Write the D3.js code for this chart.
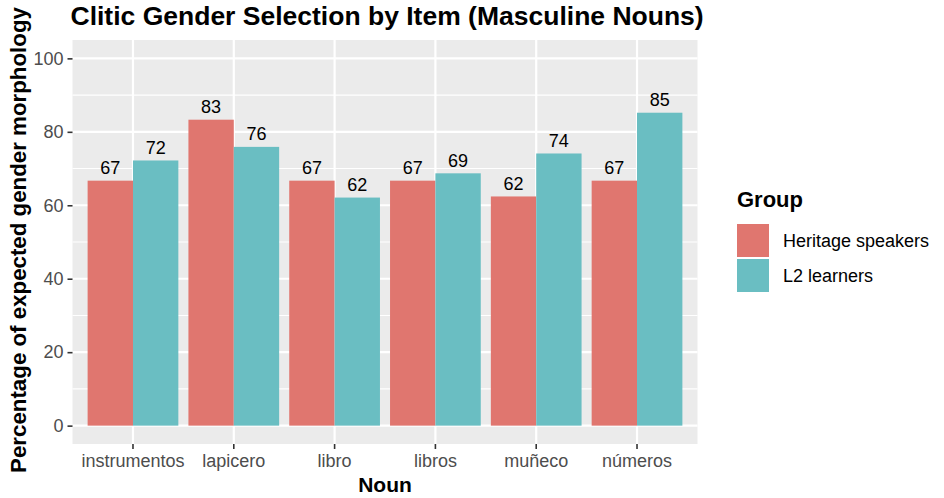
<!DOCTYPE html>
<html>
<head>
<meta charset="utf-8">
<script src="https://cdn.jsdelivr.net/npm/d3@7"></script>
<style>
  html, body { margin: 0; padding: 0; background: #ffffff; }
  svg { display: block; font-family: "Liberation Sans", Arial, Helvetica, sans-serif; }
</style>
</head>
<body>
<svg id="chart" width="944" height="498"></svg>
<script>
const nouns = ["instrumentos", "lapicero", "libro", "libros", "muñeco", "números"];
const groups = ["Heritage speakers", "L2 learners"];
const heritageValues = [66.7, 83.3, 66.7, 66.7, 62.4, 66.7];
const l2Values = [72.2, 75.9, 62.1, 68.7, 74.1, 85.2];
const yTicks = [0, 20, 40, 60, 80, 100];
const yMinorTicks = [10, 30, 50, 70, 90];
const groupColors = ["#E0766F", "#6ABEC2"];

const title = "Clitic Gender Selection by Item (Masculine Nouns)";
const xTitle = "Noun";
const yTitle = "Percentage of expected gender morphology";
const legendTitle = "Group";

const rows = nouns.map((n, i) => ({ noun: n, values: [heritageValues[i], l2Values[i]] }));

const svg = d3.select("#chart");
const panel = { left: 72.5, right: 697.5, top: 40, bottom: 444 };

svg.append("rect").attr("width", 944).attr("height", 498).attr("fill", "#ffffff");

const x = d3.scaleBand().domain(nouns).range([panel.left, panel.right])
  .paddingInner(0.1).paddingOuter(0.15);
const xg = d3.scaleBand().domain(groups).range([0, x.bandwidth()]).padding(0);
const y = d3.scaleLinear().domain([-5, 105]).range([panel.bottom, panel.top]);
const color = d3.scaleOrdinal().domain(groups).range(groupColors);

// panel background
svg.append("rect")
  .attr("x", panel.left).attr("y", panel.top)
  .attr("width", panel.right - panel.left).attr("height", panel.bottom - panel.top)
  .attr("fill", "#EBEBEB");

// minor grid
svg.append("g").selectAll("line").data(yMinorTicks).join("line")
  .attr("x1", panel.left).attr("x2", panel.right)
  .attr("y1", d => y(d)).attr("y2", d => y(d))
  .attr("stroke", "#ffffff").attr("stroke-width", 1.1);

// major grid
svg.append("g").selectAll("line").data(yTicks).join("line")
  .attr("x1", panel.left).attr("x2", panel.right)
  .attr("y1", d => y(d)).attr("y2", d => y(d))
  .attr("stroke", "#ffffff").attr("stroke-width", 2.2);
svg.append("g").selectAll("line").data(nouns).join("line")
  .attr("x1", d => x(d) + x.bandwidth() / 2).attr("x2", d => x(d) + x.bandwidth() / 2)
  .attr("y1", panel.top).attr("y2", panel.bottom)
  .attr("stroke", "#ffffff").attr("stroke-width", 2.2);

// bars
const barG = svg.append("g").selectAll("g").data(rows).join("g")
  .attr("transform", d => `translate(${x(d.noun)},0)`);
barG.selectAll("rect").data(d => d.values.map((v, i) => ({ group: groups[i], value: v }))).join("rect")
  .attr("x", d => xg(d.group))
  .attr("width", xg.bandwidth())
  .attr("y", d => y(d.value))
  .attr("height", d => y(0) - y(d.value))
  .attr("fill", d => color(d.group));
barG.selectAll("text").data(d => d.values.map((v, i) => ({ group: groups[i], value: v }))).join("text")
  .attr("x", d => xg(d.group) + xg.bandwidth() / 2)
  .attr("y", d => y(d.value) - 6.5)
  .attr("text-anchor", "middle")
  .attr("font-size", 18)
  .attr("fill", "#000000")
  .text(d => Math.round(d.value));

// y axis
const yAxis = svg.append("g")
  .attr("transform", `translate(${panel.left},0)`)
  .call(d3.axisLeft(y).tickValues(yTicks).tickSize(5).tickPadding(4));
yAxis.select(".domain").remove();
yAxis.selectAll(".tick line").attr("stroke", "#333333").attr("stroke-width", 1.6);
yAxis.selectAll(".tick text").attr("fill", "#4D4D4D").attr("font-size", 18)
  .attr("font-family", "\"Liberation Sans\", Arial, Helvetica, sans-serif");

// x axis
const xAxis = svg.append("g")
  .attr("transform", `translate(0,${panel.bottom})`)
  .call(d3.axisBottom(x).tickSize(5).tickPadding(3));
xAxis.select(".domain").remove();
xAxis.selectAll(".tick line").attr("stroke", "#333333").attr("stroke-width", 1.6);
xAxis.selectAll(".tick text").attr("fill", "#4D4D4D").attr("font-size", 18)
  .attr("font-family", "\"Liberation Sans\", Arial, Helvetica, sans-serif")
  .attr("dy", null).attr("y", 23);

// titles
svg.append("text")
  .attr("x", panel.left - 2).attr("y", 25)
  .attr("font-size", 26.5).attr("font-weight", "bold").attr("fill", "#000000")
  .text(title);
svg.append("text")
  .attr("x", (panel.left + panel.right) / 2).attr("y", 492)
  .attr("text-anchor", "middle")
  .attr("font-size", 21).attr("font-weight", "bold").attr("fill", "#000000")
  .text(xTitle);
svg.append("text")
  .attr("transform", `translate(26,240) rotate(-90)`)
  .attr("text-anchor", "middle")
  .attr("font-size", 22.3).attr("font-weight", "bold").attr("fill", "#000000")
  .text(yTitle);

// legend
const legend = svg.append("g").attr("transform", "translate(737,0)");
legend.append("text")
  .attr("x", 0).attr("y", 207)
  .attr("font-size", 22).attr("font-weight", "bold").attr("fill", "#000000")
  .text(legendTitle);
const li = legend.selectAll("g.item").data(groups).join("g")
  .attr("class", "item")
  .attr("transform", (d, i) => `translate(0,${224 + i * 35})`);
li.append("rect")
  .attr("width", 32).attr("height", 33)
  .attr("fill", d => color(d));
li.append("text")
  .attr("x", 46).attr("y", 16.5).attr("dy", "0.35em")
  .attr("font-size", 18).attr("fill", "#000000")
  .text(d => d);
</script>
</body>
</html>
